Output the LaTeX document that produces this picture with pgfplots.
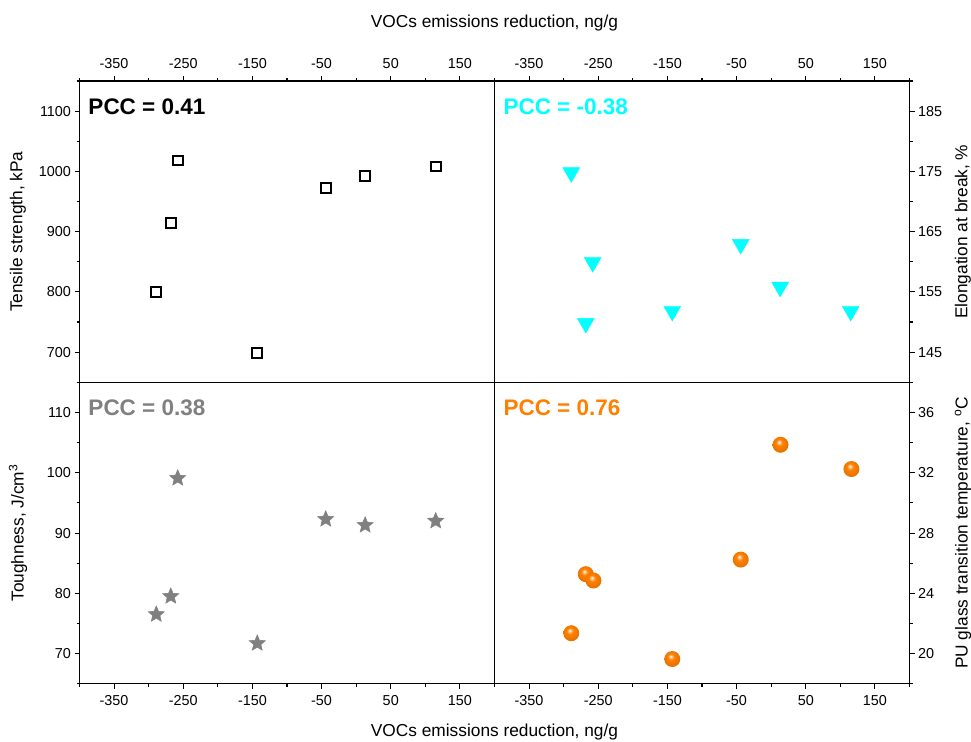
\documentclass[border=0pt]{standalone}
\usepackage{fontspec}
\setmainfont{Liberation Sans}
\usepackage{pgfplots}
\pgfplotsset{compat=1.18}

\definecolor{myorange}{RGB}{255,128,0}
\definecolor{mygray}{RGB}{128,128,128}
\definecolor{mycyan}{RGB}{0,255,255}

\pgfdeclareplotmark{fivestar}{%
  \pgfpathmoveto{\pgfpointpolar{90}{\pgfplotmarksize}}%
  \pgfpathlineto{\pgfpointpolar{126}{0.45\pgfplotmarksize}}%
  \pgfpathlineto{\pgfpointpolar{162}{\pgfplotmarksize}}%
  \pgfpathlineto{\pgfpointpolar{198}{0.45\pgfplotmarksize}}%
  \pgfpathlineto{\pgfpointpolar{234}{\pgfplotmarksize}}%
  \pgfpathlineto{\pgfpointpolar{270}{0.45\pgfplotmarksize}}%
  \pgfpathlineto{\pgfpointpolar{306}{\pgfplotmarksize}}%
  \pgfpathlineto{\pgfpointpolar{342}{0.45\pgfplotmarksize}}%
  \pgfpathlineto{\pgfpointpolar{18}{\pgfplotmarksize}}%
  \pgfpathlineto{\pgfpointpolar{54}{0.45\pgfplotmarksize}}%
  \pgfpathclose
  \pgfusepathqfillstroke}

\pgfdeclareradialshading{oballshade}{\pgfpoint{-5bp}{9bp}}{%
  color(0bp)=(white);
  color(3.5bp)=(myorange!40!white);
  color(10bp)=(myorange);
  color(26bp)=(myorange!90!black);
  color(50bp)=(myorange!80!black)}

\pgfdeclareplotmark{oball}{%
  \pgfpathcircle{\pgfpointorigin}{\pgfplotmarksize}%
  \pgfshadepath{oballshade}{0}%
  \pgfusepath{}}

\tikzset{pcc/.style={anchor=west, inner sep=0pt, font=\bfseries\fontsize{22.5}{26}\selectfont}}

\pgfplotsset{
  panel/.style={
    scale only axis, width=415pt, height=301.3pt,
    xmin=-400, xmax=200,
    xtick={-350,-250,...,150}, minor xtick={-400,-300,...,200},
    separate axis lines,
    axis line style={line width=1.4pt, line cap=rect},
    tick align=outside, major tick length=5pt, minor tick length=3pt,
    tick style={black, line width=1.1pt},
    ticklabel style={font=\fontsize{14.4}{16}\selectfont},
    /pgf/number format/assume math mode=true,
    /pgf/number format/1000 sep={},
    clip=false,
  },
  leftlab/.style={every axis y label/.style={at={(axis description cs:-0.1482,0.5)}, rotate=90, anchor=center, font=\fontsize{17.3}{20}\selectfont}},
  rightlab/.style={every axis y label/.style={at={(axis description cs:1.1289,0.5)}, rotate=90, anchor=center, font=\fontsize{17.3}{20}\selectfont}},
}

\begin{document}
\begin{tikzpicture}
\useasboundingbox (0pt,0pt) rectangle (971pt,-741pt);

% top left
\begin{axis}[panel, at={(79.5pt,-81pt)}, anchor=north west,
  ymin=650, ymax=1150, ytick={700,800,...,1100}, minor ytick={650,750,...,1150},
  xtick pos=right, xticklabel pos=right, ytick pos=left, yticklabel pos=left,
  xticklabel style={yshift=3.5pt},
  leftlab, ylabel={Tensile strength, kPa}]
\addplot[only marks, mark=square*, mark size=4.9pt, mark options={draw=black, fill=white, line width=2pt}]
  coordinates {(-289,800.5) (-268,914) (-258,1018) (-143,699) (-44,973) (13,992) (115,1008)};
\node[pcc, text=black] at (axis description cs:0.0212,0.915) {PCC = 0.41};
\end{axis}

% top right
\begin{axis}[panel, at={(494.5pt,-81pt)}, anchor=north west,
  ymin=140, ymax=190, ytick={145,155,...,185}, minor ytick={140,150,...,190},
  xtick pos=right, xticklabel pos=right, ytick pos=right, yticklabel pos=right,
  xticklabel style={yshift=3.5pt},
  rightlab, ylabel={Elongation at break, \%}]
\addplot[only marks, mark=triangle*, mark size=9.8pt, mark options={draw=mycyan, fill=mycyan, rotate=180, line width=0.4pt}]
  coordinates {(-289,174.8) (-268,149.8) (-258,159.9) (-143,151.8) (-44,162.9) (13,155.8) (115,151.8)};
\node[pcc, text=mycyan] at (axis description cs:0.0212,0.915) {PCC = -0.38};
\end{axis}

% bottom left
\begin{axis}[panel, at={(79.5pt,-382.4pt)}, anchor=north west,
  ymin=65, ymax=115, ytick={70,80,...,110}, minor ytick={65,75,...,115},
  xtick pos=left, xticklabel pos=left, ytick pos=left, yticklabel pos=left,
  xticklabel style={yshift=-3pt},
  leftlab, ylabel={Toughness, J/cm\textsuperscript{3}}]
\addplot[only marks, mark=fivestar, mark size=8.5pt, mark options={draw=mygray, fill=mygray, line width=0.5pt}]
  coordinates {(-289,76.5) (-268,79.5) (-258,99.1) (-143,71.7) (-44,92.3) (13,91.3) (115,92.0)};
\node[pcc, text=mygray] at (axis description cs:0.0212,0.915) {PCC = 0.38};
\end{axis}

% bottom right
\begin{axis}[panel, at={(494.5pt,-382.4pt)}, anchor=north west,
  ymin=18, ymax=38, ytick={20,24,...,36}, minor ytick={18,22,...,38},
  xtick pos=left, xticklabel pos=left, ytick pos=right, yticklabel pos=right,
  xticklabel style={yshift=-3pt},
  rightlab, ylabel={PU glass transition temperature, \textsuperscript{o}C}]
\addplot[only marks, mark=oball, mark size=8pt]
  coordinates {(-289,21.35) (-268,25.27) (-257,24.85) (-143,19.64) (-44,26.24) (13.5,33.86) (116,32.25)};
\node[pcc, text=myorange] at (axis description cs:0.0212,0.915) {PCC = 0.76};
\end{axis}

\node[anchor=base, font=\fontsize{17.3}{20}\selectfont] at (494.5pt,-27.3pt) {VOCs emissions reduction, ng/g};
\node[anchor=base, font=\fontsize{17.3}{20}\selectfont] at (494.5pt,-736pt) {VOCs emissions reduction, ng/g};
\end{tikzpicture}
\end{document}
